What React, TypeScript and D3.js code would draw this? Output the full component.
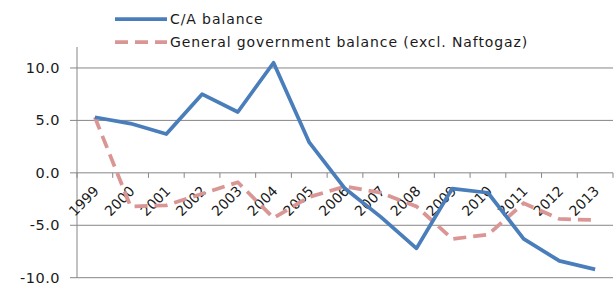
import React from "react";
import * as d3 from "d3";

const years = ["1999", "2000", "2001", "2002", "2003", "2004", "2005", "2006", "2007", "2008", "2009", "2010", "2011", "2012", "2013"];
const caBalance = [5.3, 4.7, 3.7, 7.5, 5.8, 10.5, 2.9, -1.5, -4.2, -7.2, -1.5, -1.9, -6.3, -8.4, -9.2];
const govBalance = [5.3, -3.2, -3.1, -2.0, -0.9, -4.3, -2.3, -1.3, -1.9, -3.2, -6.3, -5.9, -2.9, -4.4, -4.5];
const yTicks = [10, 5, 0, -5, -10];
const seriesNames = ["C/A balance", "General government balance (excl. Naftogaz)"];

const W = 615;
const H = 283;
const margin = { left: 77, right: 2, top: 47, bottom: 5 };
const font = "'DejaVu Sans', Verdana, sans-serif";

export default function App() {
  const x = d3
    .scaleBand()
    .domain(years)
    .range([margin.left, W - margin.right]);
  const y = d3
    .scaleLinear()
    .domain([-10, 12])
    .range([H - margin.bottom - 0.3, margin.top]);

  const cx = (d: string) => (x(d) as number) + x.bandwidth() / 2;

  const line = d3
    .line<number>()
    .x((d, i) => cx(years[i]))
    .y((d) => y(d));

  const boundaries = years.map((d) => x(d) as number).concat([W - margin.right]);

  return (
    <svg width={W} height={H} style={{ position: "absolute", left: 0, top: 0, background: "#fff" }}>
      {/* gridlines + y labels */}
      {yTicks.map((t) => (
        <g key={t}>
          <line x1={margin.left - 7} x2={W - margin.right} y1={y(t)} y2={y(t)} stroke="#868686" strokeWidth={1} />
          <text x={60} y={y(t)} dy="0.35em" textAnchor="end" fontFamily={font} fontSize={14.5} letterSpacing={0.5} fill="#1a1a1a">
            {t.toFixed(1)}
          </text>
        </g>
      ))}
      {/* y axis */}
      <line x1={margin.left} x2={margin.left} y1={margin.top} y2={y(-10)} stroke="#868686" strokeWidth={1} />
      {/* x axis ticks at zero */}
      {boundaries.map((b, i) => (
        <line key={i} x1={b} x2={b} y1={y(0)} y2={y(0) + 5} stroke="#868686" strokeWidth={1} />
      ))}
      {/* x labels */}
      {years.map((d) => (
        <text
          key={d}
          transform={`translate(${cx(d) + 5},${y(0) + 19}) rotate(-45)`}
          textAnchor="end"
          fontFamily={font}
          fontSize={14}
          fill="#1a1a1a"
        >
          {d}
        </text>
      ))}
      {/* series */}
      <path d={line(govBalance) || ""} fill="none" stroke="#d99694" strokeWidth={3.75} strokeDasharray="13,7" />
      <path d={line(caBalance) || ""} fill="none" stroke="#4a7ebb" strokeWidth={3.75} strokeLinejoin="round" />
      {/* legend */}
      <line x1={115} x2={167} y1={19} y2={19} stroke="#4a7ebb" strokeWidth={3.75} />
      <text x={170} y={19} dy="0.35em" fontFamily={font} fontSize={14} letterSpacing={0.9} fill="#1a1a1a">
        {seriesNames[0]}
      </text>
      <line x1={115} x2={167} y1={42} y2={42} stroke="#d99694" strokeWidth={3.75} strokeDasharray="13,7" />
      <text x={170} y={42} dy="0.35em" fontFamily={font} fontSize={14} letterSpacing={0.9} fill="#1a1a1a">
        {seriesNames[1]}
      </text>
    </svg>
  );
}
